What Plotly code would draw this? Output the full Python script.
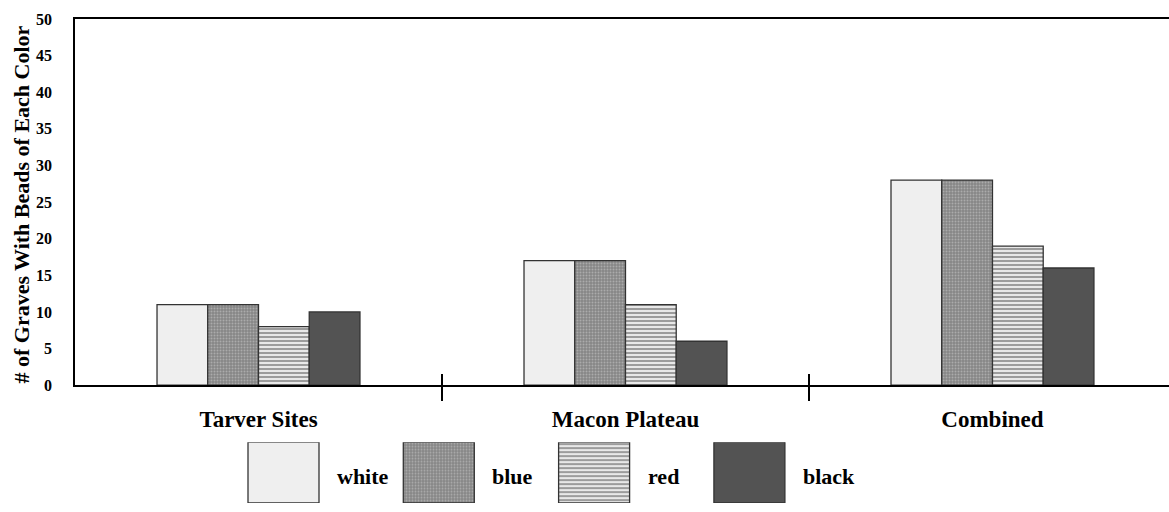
import plotly.graph_objects as go

# Grave counts by bead colour at each site group
sites = ["Tarver Sites", "Macon Plateau", "Combined"]
colors = ["white", "blue", "red", "black"]
white = [11, 17, 28]
blue = [11, 17, 28]
red = [8, 11, 19]
black = [10, 6, 16]

y_ticks = list(range(0, 55, 5))
y_title = "# of Graves With Beads of Each Color"

FONT = "Liberation Serif"
EDGE = "#333333"
W, H = 1169, 512
M_L, M_T = 75, 19

styles = {
    "white": dict(color="#efefef", pattern=None),
    "blue": dict(color="#9a9a9a",
                 pattern=dict(shape=".", fgcolor="#d2d2d2", bgcolor="#858585",
                              size=3, solidity=0.35)),
    "red": dict(color="#d0d0d0",
                pattern=dict(shape="-", fgcolor="#474747", bgcolor="#f0f0f0",
                             size=4, solidity=0.55)),
    "black": dict(color="#535353", pattern=None),
}

series = {"white": white, "blue": blue, "red": red, "black": black}
xpos = list(range(len(sites)))


def bar_marker(name):
    st = styles[name]
    m = dict(color=st["color"], line=dict(color=EDGE, width=1.3))
    if st["pattern"]:
        m["pattern"] = st["pattern"]
    return m


fig = go.Figure()
for name in colors:
    fig.add_trace(go.Bar(x=xpos, y=series[name], name=name,
                         marker=bar_marker(name), showlegend=False,
                         xaxis="x", yaxis="y"))

# Hand-built legend: large swatches on a pixel-scaled pair of axes
legend_x0, legend_step, swatch_w = 283.5, 155.3, 71
for i, name in enumerate(colors):
    cx = legend_x0 + i * legend_step
    fig.add_trace(go.Bar(x=[cx], y=[1], width=[swatch_w],
                         marker=bar_marker(name), showlegend=False,
                         xaxis="x2", yaxis="y2", hoverinfo="skip"))
    fig.add_annotation(x=cx + swatch_w / 2 + 16, y=0.44, xref="x2", yref="y2",
                       text=f"<b>{name}</b>", showarrow=False, xanchor="left",
                       font=dict(family=FONT, size=22, color="black"))

# Rotated y-axis title, left of the tick labels
plot_w, plot_h = W - M_L, H - M_T
fig.add_annotation(x=(22 - M_L) / plot_w, y=(H - 208) / plot_h,
                   xref="paper", yref="paper", textangle=-90,
                   text=f"<b>{y_title}</b>", showarrow=False,
                   xanchor="center", yanchor="middle",
                   font=dict(family=FONT, size=22, color="black"))

xr = [-0.5, 2.481]
fig.update_layout(
    width=W, height=H,
    margin=dict(l=M_L, r=0, t=M_T, b=0),
    paper_bgcolor="white", plot_bgcolor="white",
    barmode="group", bargap=0.447, bargroupgap=0,
    font=dict(family=FONT, color="black"),
    xaxis=dict(
        domain=[0, 1], range=xr, anchor="y",
        tickvals=xpos, ticktext=[f"<b>{s}</b>" for s in sites],
        tickfont=dict(family=FONT, size=23, color="black"),
        ticks="", ticklabelstandoff=12, showgrid=False, zeroline=False,
        showline=True, linecolor="black", linewidth=1.5, mirror=True,
        minor=dict(tickvals=[0.5, 1.5], ticks="outside", ticklen=14,
                   tickwidth=1.5, tickcolor="black", showgrid=False),
    ),
    xaxis3=dict(
        overlaying="x", anchor="y", range=xr, side="bottom",
        tickvals=[0.5, 1.5], ticktext=["", ""], ticks="inside", ticklen=11,
        tickwidth=1.5, tickcolor="black", showline=False, showgrid=False,
        zeroline=False,
    ),
    yaxis=dict(
        domain=[120 / 493, 1], range=[0, 50], anchor="x",
        tickvals=y_ticks, ticktext=[f"<b>{v}</b>" for v in y_ticks],
        tickfont=dict(family=FONT, size=16, color="black"),
        ticks="", ticklabelstandoff=18, showgrid=False, zeroline=False,
        showline=True, linecolor="black", linewidth=1.5,
    ),
    xaxis2=dict(domain=[0, 1], range=[75, 1169], anchor="y2", visible=False),
    yaxis2=dict(domain=[0, 62 / 493], range=[0, 1], anchor="x2", visible=False),
)

# an invisible trace keeps the overlay tick axis drawn
fig.add_trace(go.Scatter(x=[0], y=[0], xaxis="x3", yaxis="y", mode="markers",
                         marker=dict(opacity=0), showlegend=False,
                         hoverinfo="skip"))

fig.write_html("out.html")
